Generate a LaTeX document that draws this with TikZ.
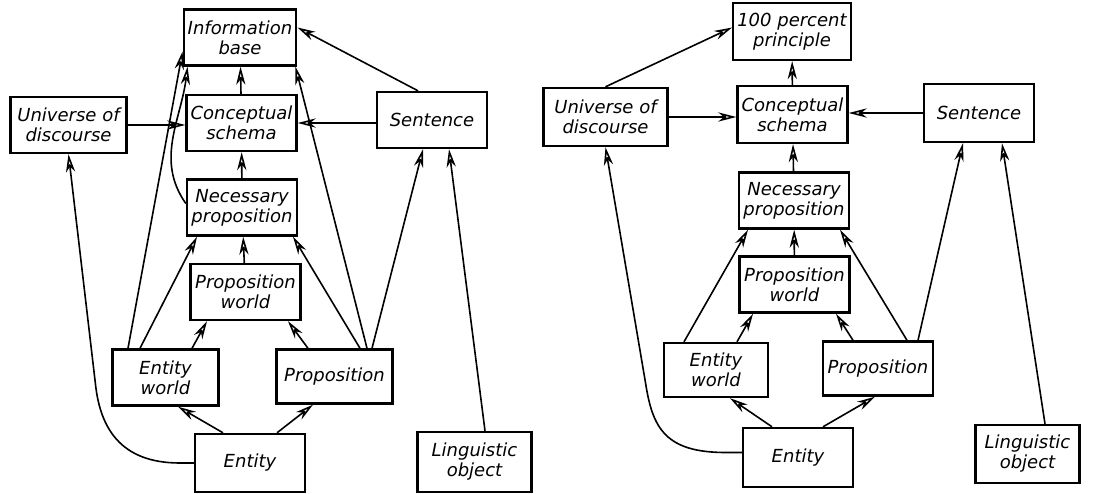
\documentclass[tikz,border=0pt]{standalone}
\usepackage{fontspec}
\setmainfont{DejaVu Sans}
\usepackage{tikz}
\usetikzlibrary{positioning,calc}
\usetikzlibrary{arrows.meta}
\tikzset{
  box/.style={draw=black,line width=1.2pt,fill=white,minimum width=55pt,minimum height=28pt,
    align=center,inner sep=2pt,font=\itshape\fontsize{9}{10}\selectfont},
  arr/.style={draw=black,line width=0.8pt,-{Stealth[open,length=9pt,width=4.6pt,inset=2.8pt]}},
}
\begin{document}
\begin{tikzpicture}[x=0.5pt,y=-0.5pt]
  \useasboundingbox (0,0) rectangle (1109,493);
  % left picture
  \node[box] (ib) at (240,37.5) {Information\\base};
  \node[box,minimum width=58pt] (uod) at (68.5,125) {Universe of\\discourse};
  \node[box] (cs) at (241.5,123) {Conceptual\\schema};
  \node[box] (sen) at (432,120) {Sentence};
  \node[box] (np) at (242,207.5) {Necessary\\proposition};
  \node[box] (pw) at (245.5,292) {Proposition\\world};
  \node[box,minimum width=53pt] (ew) at (165.5,377.5) {Entity\\world};
  \node[box,minimum width=58pt,minimum height=27pt] (prop) at (334.5,376.5) {Proposition};
  \node[box,minimum height=29pt] (ent) at (250,463) {Entity};
  \node[box,minimum width=57pt,minimum height=30pt] (lo) at (474.5,462) {Linguistic\\object};
  \foreach \a/\b in {cs/ib,np/cs,pw/np}
    \draw[arr] (\a) -- (\b);
  \draw[arr] (uod.east) -- (uod.east -| cs.west);
  \draw[arr] ([yshift=-1.5pt]sen.west) -- ([yshift=-1.5pt]sen.west -| cs.east);
  \foreach \a/\sa/\b/\sb in {ew/-12.75/np/-22.5,ew/13.25/pw/-19.25,prop/-13.25/pw/21.25,
      prop/12.75/np/25.5,prop/18.75/sen/-4.5,lo/5.25/sen/8.5,ent/-13.5/ew/6.25,ent/13.5/prop/-10.75}
    \draw[arr] ([xshift=\sa pt]\a.north) -- ([xshift=\sb pt]\b.south);
  \draw[arr] ([xshift=-7pt]sen.north) -- ([yshift=5pt]ib.east);
  \draw[arr] ([xshift=-18.75pt]ew.north) -- ([yshift=-7pt]ib.west);
  \draw[arr] ([xshift=16.25pt]prop.north) -- ([xshift=-1pt]ib.south east);
  \draw[arr] ([yshift=2pt]np.west) to[out=125,in=-97] ([xshift=2.5pt]ib.south west);
  \draw[arr] (ent.west) -- ++(-7pt,0) .. controls +(-30pt,0) and +(2.5pt,-20pt) .. ++(-42pt,38pt)
    -- (uod.south);
  % right picture
  \node[box,minimum height=28.5pt] (pp) at (792,31.5) {100 percent\\principle};
  \node[box,minimum width=62pt,minimum height=29pt] (uodR) at (605.5,117) {Universe of\\discourse};
  \node[box,minimum height=28.5pt] (csR) at (792.5,114.5) {Conceptual\\schema};
  \node[box,minimum height=29pt] (senR) at (979,113) {Sentence};
  \node[box] (npR) at (794,200.5) {Necessary\\proposition};
  \node[box] (pwR) at (794.5,284.5) {Proposition\\world};
  \node[box,minimum width=52pt,minimum height=27pt] (ewR) at (716,370) {Entity\\world};
  \node[box,minimum height=27pt] (propR) at (878,368.5) {Proposition};
  \node[box,minimum height=29.5pt] (entR) at (798,457.5) {Entity};
  \node[box,minimum width=52pt,minimum height=29pt] (loR) at (1027.5,454) {Linguistic\\object};
  \foreach \a/\b in {csR/pp,npR/csR,pwR/npR}
    \draw[arr] (\a) -- (\b);
  \draw[arr] (uodR.east) -- (uodR.east -| csR.west);
  \draw[arr] (senR.west) -- (senR.west -| csR.east);
  \foreach \a/\sa/\b/\sb in {ewR/-16/npR/-23,ewR/10.5/pwR/-20.75,propR/-12.5/pwR/20.75,
      propR/14.5/npR/23,propR/20/senR/-8,loR/8.75/senR/11.5,entR/-13/ewR/7,entR/12.5/propR/-1.5}
    \draw[arr] ([xshift=\sa pt]\a.north) -- ([xshift=\sb pt]\b.south);
  \draw[arr] (uodR.north) -- ([yshift=2pt]pp.west);
  \draw[arr] ([yshift=2.5pt]entR.west) -- ++(-8pt,0) .. controls +(-30pt,0) and +(3.5pt,-22pt) .. ++(-40pt,34pt)
    -- (uodR.south);
\end{tikzpicture}
\end{document}
